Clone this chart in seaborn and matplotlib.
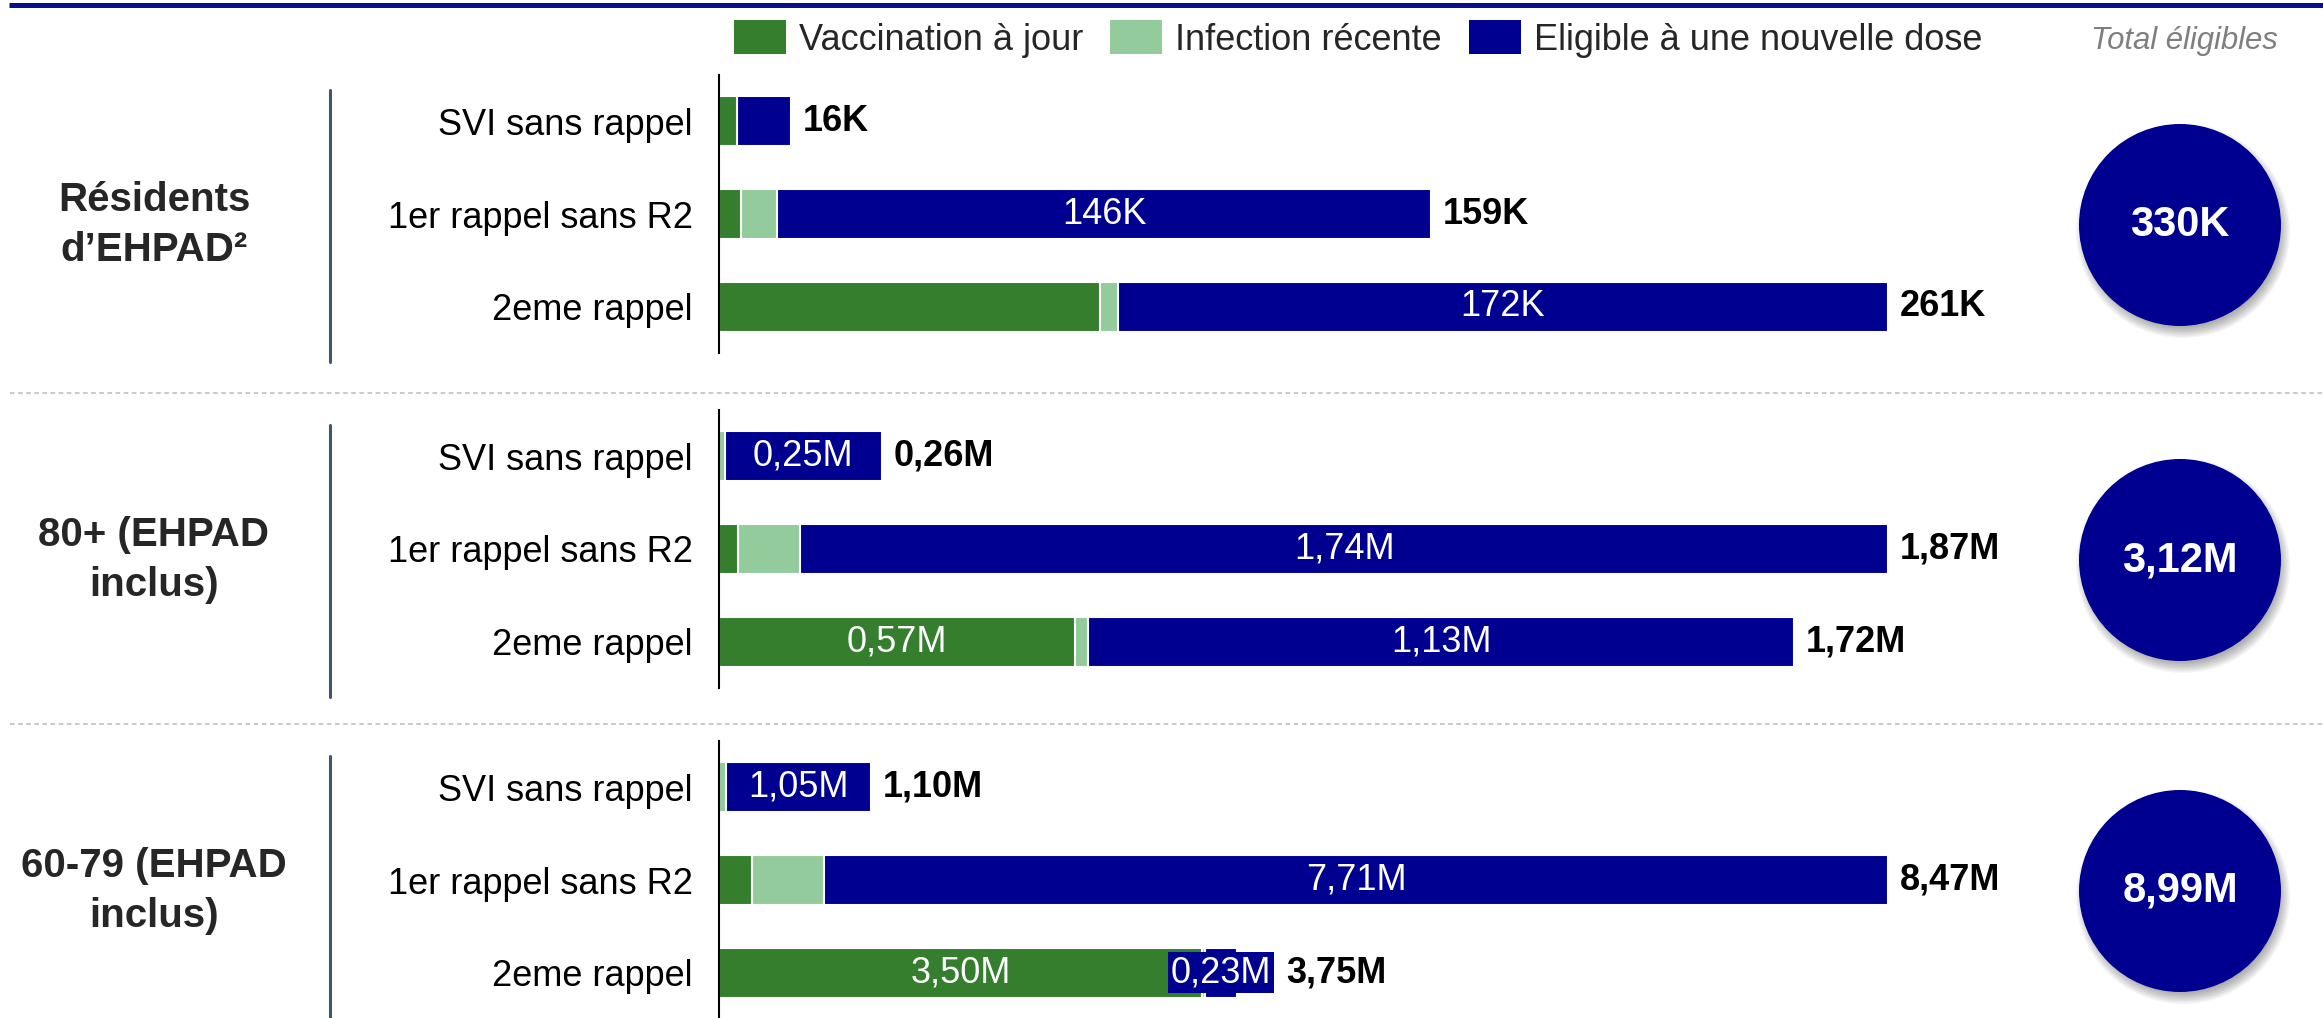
import matplotlib
matplotlib.use("Agg")
import matplotlib.pyplot as plt
import seaborn as sns
import pandas as pd
from matplotlib.patches import Circle, Patch

# ---------------- data ----------------
categories = ["SVI sans rappel", "1er rappel sans R2", "2eme rappel"]
group_names = ["Résidents\nd’EHPAD²", "80+ (EHPAD\ninclus)", "60-79 (EHPAD\ninclus)"]
legend_labels = ["Vaccination à jour", "Infection récente", "Eligible à une nouvelle dose"]

# Résidents d'EHPAD (thousands)
vacc_ehpad = [4, 5, 85]
infect_ehpad = [0, 8, 4]
elig_ehpad = [12, 146, 172]
# 80+ (millions)
vacc_80 = [0.00, 0.03, 0.57]
infect_80 = [0.01, 0.10, 0.02]
elig_80 = [0.25, 1.74, 1.13]
# 60-79 (millions)
vacc_6079 = [0.00, 0.24, 3.50]
infect_6079 = [0.05, 0.52, 0.02]
elig_6079 = [1.05, 7.71, 0.23]

# inner labels
vacc_lbl_ehpad = ["", "", ""]
elig_lbl_ehpad = ["", "146K", "172K"]
vacc_lbl_80 = ["", "", "0,57M"]
elig_lbl_80 = ["0,25M", "1,74M", "1,13M"]
vacc_lbl_6079 = ["", "", "3,50M"]
elig_lbl_6079 = ["1,05M", "7,71M", "0,23M"]

# totals per bar and per group
total_lbl_ehpad = ["16K", "159K", "261K"]
total_lbl_80 = ["0,26M", "1,87M", "1,72M"]
total_lbl_6079 = ["1,10M", "8,47M", "3,75M"]
circle_totals = ["330K", "3,12M", "8,99M"]

groups = [
    (vacc_ehpad, infect_ehpad, elig_ehpad, vacc_lbl_ehpad, elig_lbl_ehpad, total_lbl_ehpad),
    (vacc_80, infect_80, elig_80, vacc_lbl_80, elig_lbl_80, total_lbl_80),
    (vacc_6079, infect_6079, elig_6079, vacc_lbl_6079, elig_lbl_6079, total_lbl_6079),
]

# ---------------- style ----------------
GREEN = "#347E2D"
LGREEN = "#93CB9C"
BLUE = "#000090"
SEP = "#44546A"

sns.set_theme(style="white")
plt.rcParams["font.family"] = ["Liberation Sans", "DejaVu Sans"]

W, H = 2323, 1018
fig = plt.figure(figsize=(W / 100, H / 100), dpi=100)
fig.patch.set_facecolor("white")

ov = fig.add_axes([0, 0, 1, 1], zorder=0)
ov.set_xlim(0, W)
ov.set_ylim(H, 0)
ov.axis("off")

AX_L, AX_W, AX_H = 719, 1169, 278
tops = [75, 410, 741]
CY_OFF = 11

# decorations
ov.plot([9, W], [5, 5], color="#0C0C8E", lw=3.6, solid_capstyle="butt")
for ysep in [393, 724]:
    ov.plot([10, W], [ysep, ysep], color="#C4C4C4", lw=1.3, dashes=(2.5, 2))

ov.text(2184, 41, "Total éligibles", ha="center", va="center", fontsize=22.4,
        style="italic", color="#7F7F7F")

axes = []
for gi, (vacc, inf, elig, vl, el, tl) in enumerate(groups):
    top = tops[gi]
    ax = fig.add_axes([AX_L / W, 1 - (top + AX_H) / H, AX_W / W, AX_H / H], zorder=1)
    ax.set_facecolor("none")
    c1 = list(vacc)
    c2 = [a + b for a, b in zip(vacc, inf)]
    c3 = [a + b + c for a, b, c in zip(vacc, inf, elig)]
    df = pd.DataFrame({"cat": categories, "c1": c1, "c2": c2, "c3": c3})
    for col, colr in [("c3", BLUE), ("c2", LGREEN), ("c1", GREEN)]:
        sns.barplot(data=df, y="cat", x=col, orient="h", color=colr, saturation=1,
                    width=0.54, edgecolor="white", linewidth=1.5, errorbar=None, ax=ax)
    ax.set_xlim(0, max(c3))
    ax.set_ylim(2.5, -0.5)
    ax.set_xlabel("")
    ax.set_ylabel("")
    ax.set_xticks([])
    for s in ["top", "right", "bottom"]:
        ax.spines[s].set_visible(False)
    ax.spines["left"].set_color("black")
    ax.spines["left"].set_linewidth(1.5)
    ax.tick_params(axis="y", length=0, pad=19, labelsize=26, labelcolor="black")

    row_texts = []
    for i in range(3):
        ts = []
        if vl[i]:
            t = ax.text(c1[i] / 2, i, vl[i], ha="center", va="center", color="white",
                        fontsize=26, bbox=dict(boxstyle="square,pad=0.08", fc=GREEN, ec="none"))
            ts.append(t)
        if el[i]:
            t = ax.text(c2[i] + elig[i] / 2, i, el[i], ha="center", va="center", color="white",
                        fontsize=26, bbox=dict(boxstyle="square,pad=0.08", fc=BLUE, ec="none"))
            ts.append(t)
        row_texts.append(ts)
    axes.append((ax, c3, tl, row_texts))

    # group label, separator, circle
    cy = top + AX_H / 2 + CY_OFF
    ov.text(154, cy, group_names[gi], ha="center", va="center", fontsize=29,
            fontweight="bold", linespacing=1.42, multialignment="center")
    ov.plot([330, 330], [top + 15, min(top + 287, H)], color=SEP, lw=2.2)
    cx, r = 2180, 101
    for k in range(8):
        ov.add_patch(Circle((cx + 3, cy + 6), r + 6 - k * 1.5, color="black",
                            alpha=0.045, lw=0, zorder=2))
    ov.add_patch(Circle((cx, cy), r, color=BLUE, lw=0, zorder=3))
    ov.text(cx, cy, circle_totals[gi], ha="center", va="center", fontsize=30,
            fontweight="bold", color="white", zorder=4)

# legend
handles = [Patch(facecolor=c, edgecolor="none") for c in [GREEN, LGREEN, BLUE]]
fig.legend(handles, legend_labels, loc="center left",
           bbox_to_anchor=(734 / W, 1 - 39 / H), ncol=3, frameon=False, fontsize=26,
           handlelength=1.44, handleheight=1.05, handletextpad=0.36,
           columnspacing=0.75, borderpad=0, borderaxespad=0)

# total labels, placed after the bar (or after an overflowing inner label)
fig.canvas.draw()
renderer = fig.canvas.get_renderer()
for ax, c3, tl, row_texts in axes:
    for i in range(3):
        x1 = ax.transData.transform((c3[i], i))[0]
        for t in row_texts[i]:
            bb = t.get_bbox_patch().get_window_extent(renderer)
            x1 = max(x1, bb.x1)
        xd = ax.transData.inverted().transform((x1 + 12, 0))[0]
        ax.text(xd, i, tl[i], ha="left", va="center", fontsize=26,
                fontweight="bold", color="black", clip_on=False)

fig.savefig("out.png", dpi=100)
